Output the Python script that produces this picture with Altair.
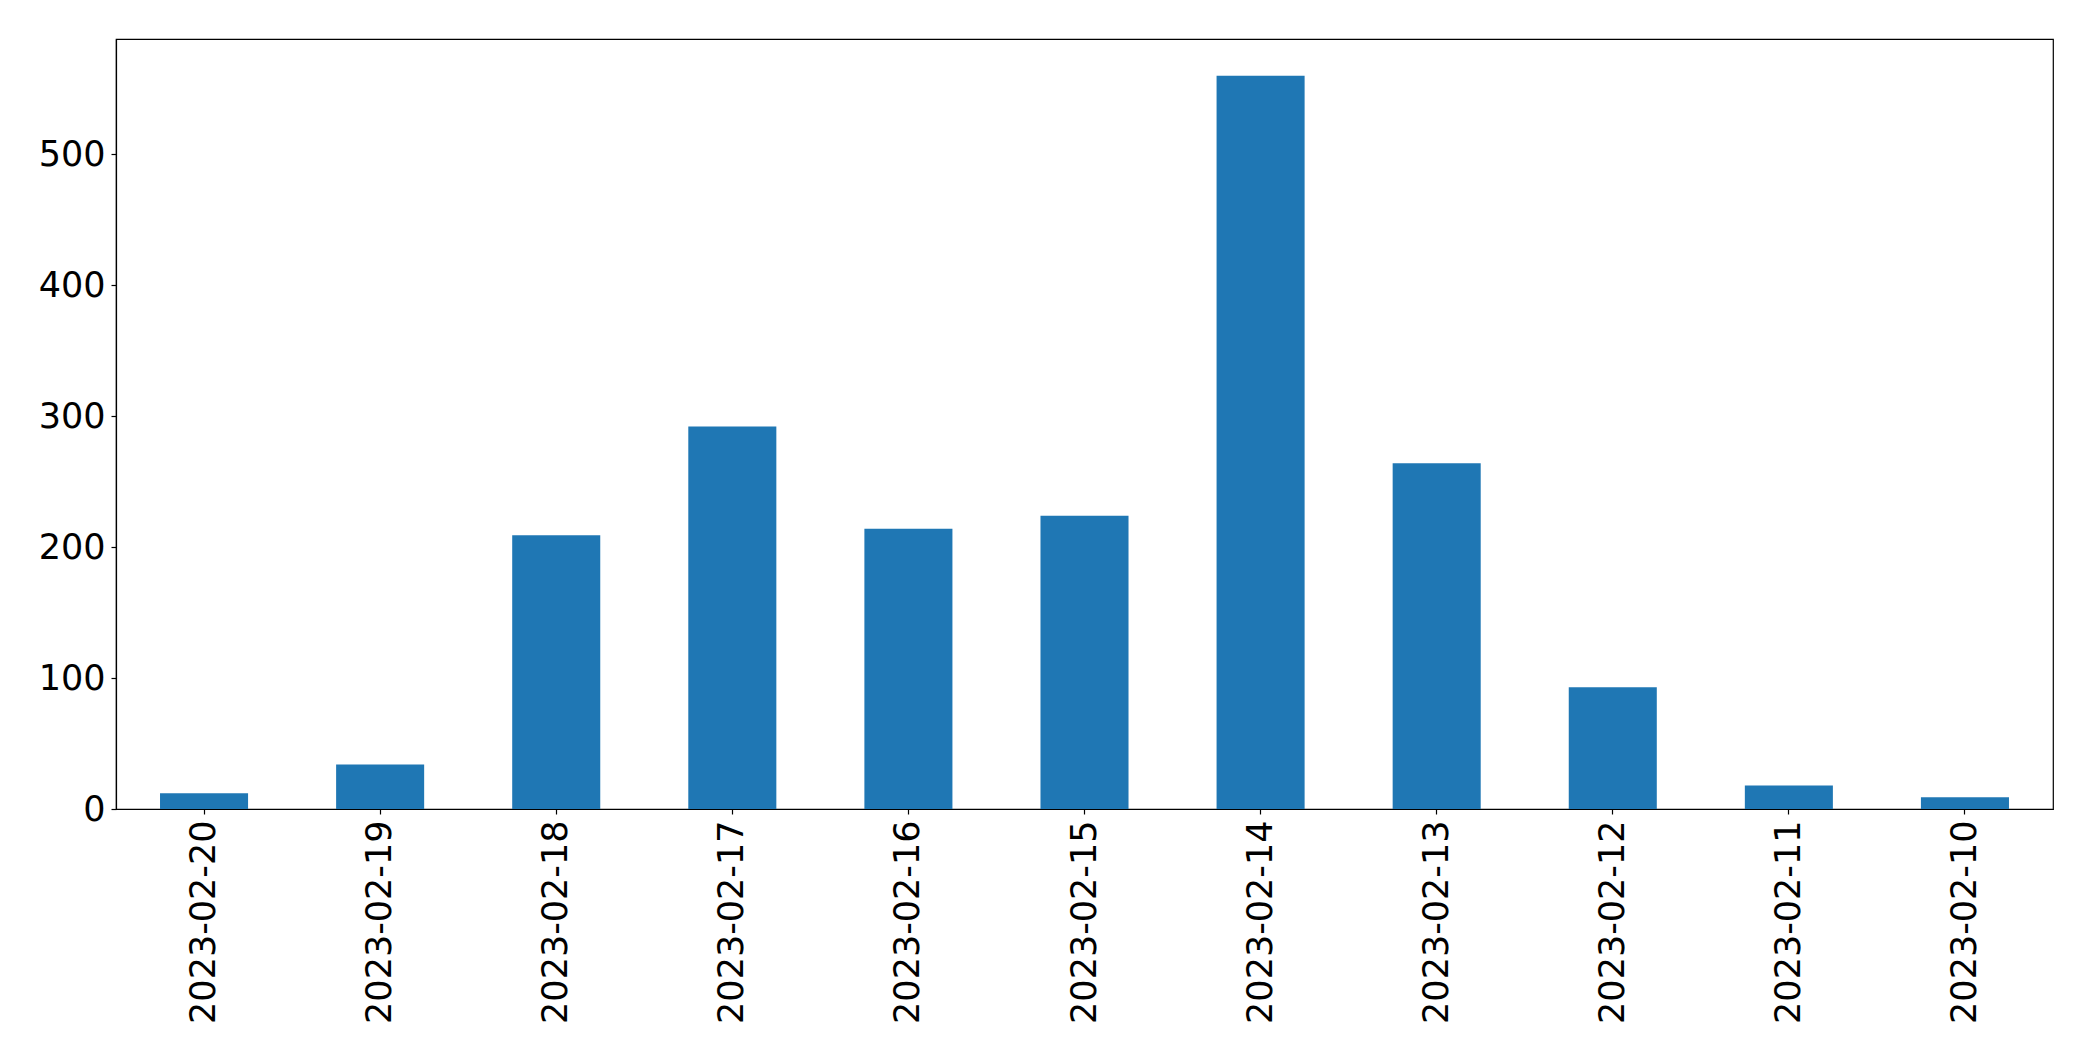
import altair as alt
import pandas as pd

dates = ["2023-02-20", "2023-02-19", "2023-02-18", "2023-02-17", "2023-02-16",
         "2023-02-15", "2023-02-14", "2023-02-13", "2023-02-12", "2023-02-11",
         "2023-02-10"]
counts = [12, 34, 209, 292, 214, 224, 560, 264, 93, 18, 9]

df = pd.DataFrame({"date": dates, "count": counts})

chart = alt.Chart(df).mark_bar(color="#1f77b4").encode(
    x=alt.X("date:N", sort=None, title=None,
            scale=alt.Scale(paddingInner=0.5, paddingOuter=0.25),
            axis=alt.Axis(labelAngle=270, labelFontSize=35, labelFont="DejaVu Sans",
                          labelColor="black", tickColor="black", domainColor="black",
                          tickSize=5, labelPadding=6, grid=False, labelLimit=0,
                          labelOverlap=False)),
    y=alt.Y("count:Q", title=None,
            scale=alt.Scale(domain=[0, 588], nice=False, zero=True),
            axis=alt.Axis(values=[0, 100, 200, 300, 400, 500], labelFontSize=35,
                          labelFont="DejaVu Sans", labelColor="black",
                          tickColor="black", domainColor="black", tickSize=5,
                          labelPadding=6, grid=False)),
).properties(
    width=1937, height=770,
    autosize=alt.AutoSizeParams(type="none"),
    padding={"left": 108, "top": 31, "right": 30, "bottom": 240},
).configure_view(stroke="black", strokeWidth=1.2).configure_axis(domainWidth=1.2, tickWidth=1.2)

chart.save("out.html", embed_options={"renderer": "svg", "actions": False})
